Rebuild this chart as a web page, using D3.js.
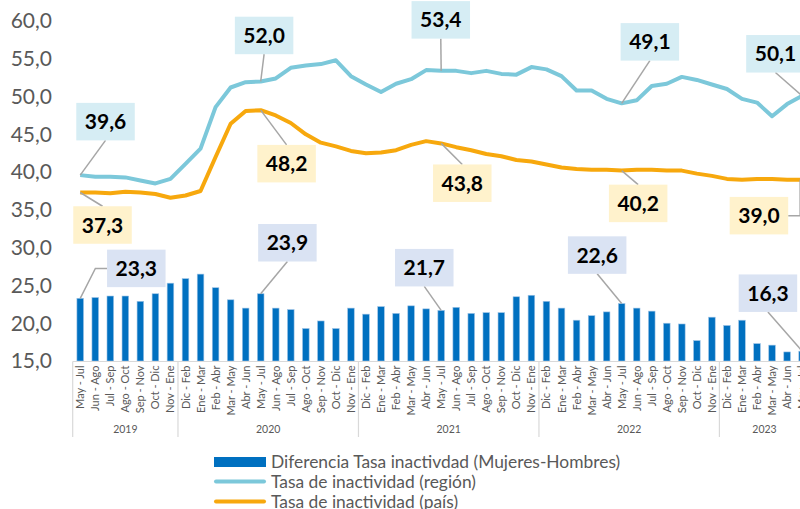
<!DOCTYPE html>
<html>
<head>
<meta charset="utf-8">
<script src="https://cdn.jsdelivr.net/npm/d3@7/dist/d3.min.js"></script>
<style>
  html, body { margin: 0; padding: 0; background: #fff; }
  svg { display: block; font-family: Lato, "Open Sans", sans-serif; }
</style>
</head>
<body>
<svg id="chart" width="800" height="509"></svg>
<script>
// ---- DATA ----
const years = ["2019", "2020", "2021", "2022", "2023"];
const periods2019 = ["May - Jul", "Jun - Ago", "Jul - Sep", "Ago - Oct", "Sep - Nov", "Oct - Dic", "Nov - Ene"];
const periodsFull = ["Dic - Feb", "Ene - Mar", "Feb - Abr", "Mar - May", "Abr - Jun", "May - Jul",
                     "Jun - Ago", "Jul - Sep", "Ago - Oct", "Sep - Nov", "Oct - Dic", "Nov - Ene"];
const periods2023 = ["Dic - Feb", "Ene - Mar", "Feb - Abr", "Mar - May", "Abr - Jun", "May - Jul"];
const periodsByYear = [periods2019, periodsFull, periodsFull, periodsFull, periods2023];

const tasaRegion = [39.6, 39.4, 39.4, 39.3, 38.9, 38.5, 39.1,
  41.1, 43.1, 48.6, 51.2, 51.9, 52.0, 52.4, 53.8, 54.1, 54.3, 54.8, 52.7,
  51.6, 50.6, 51.7, 52.3, 53.5, 53.4, 53.4, 53.1, 53.4, 53.0, 52.9, 53.9,
  53.6, 52.7, 50.8, 50.8, 49.7, 49.1, 49.5, 51.4, 51.7, 52.6, 52.2, 51.6,
  51.0, 49.7, 49.2, 47.4, 49.0, 50.1];
const tasaPais = [37.3, 37.3, 37.2, 37.4, 37.3, 37.1, 36.6,
  36.9, 37.5, 42.0, 46.4, 48.1, 48.2, 47.5, 46.5, 45.0, 43.9, 43.4, 42.8,
  42.5, 42.6, 42.9, 43.6, 44.1, 43.8, 43.3, 42.9, 42.4, 42.1, 41.6, 41.4,
  41.0, 40.6, 40.4, 40.3, 40.3, 40.2, 40.3, 40.3, 40.2, 40.2, 39.8, 39.5,
  39.1, 39.0, 39.1, 39.1, 39.0, 39.0];
const diferencia = [23.3, 23.4, 23.6, 23.6, 22.9, 23.9, 25.3,
  25.9, 26.5, 24.7, 23.1, 22.0, 23.9, 22.0, 21.8, 19.3, 20.3, 19.3, 22.0,
  21.2, 22.2, 21.3, 22.3, 21.9, 21.7, 22.1, 21.3, 21.4, 21.4, 23.5, 23.7,
  22.9, 22.0, 20.4, 21.0, 21.5, 22.6, 22.0, 21.6, 20.0, 19.9, 17.7, 20.8,
  19.7, 20.4, 17.3, 17.1, 16.2, 16.3];
const yTicks = [15, 20, 25, 30, 35, 40, 45, 50, 55, 60];
const legendLabels = ["Diferencia Tasa inactivdad (Mujeres-Hombres)", "Tasa de inactividad (región)", "Tasa de inactividad (país)"];
// indices of labelled points (May - Jul of each year)
const labelIdx = [0, 12, 24, 36, 48];

// ---- LAYOUT ----
const categories = [];
years.forEach((yr, gi) => periodsByYear[gi].forEach(p => categories.push({year: yr, label: p})));
const fmt = v => d3.format(".1f")(v).replace(".", ",");

const left = 72.7, step = 15.04;
const x = d3.scaleBand().domain(d3.range(categories.length))
  .range([left, left + categories.length * step]).paddingInner(0.56).paddingOuter(0.28);
const y = d3.scaleLinear().domain([15, 60]).range([361, 21]);
const cx = i => x(i) + x.bandwidth() / 2;

const svg = d3.select("#chart");
const colBar = "#0070c0", colReg = "#7cc8da", colPais = "#f7a80d";
const gray = "#595959", axisCol = "#d9d9d9";

// y axis labels
svg.append("g").selectAll("text").data(yTicks).join("text")
  .attr("x", 52).attr("y", d => y(d)).attr("dy", "0.35em")
  .attr("text-anchor", "end").attr("font-size", 21).attr("fill", gray)
  .text(d => fmt(d));

// bars
svg.append("g").selectAll("rect").data(diferencia).join("rect")
  .attr("x", (d, i) => x(i)).attr("width", x.bandwidth())
  .attr("y", d => y(d)).attr("height", d => y(15) - y(d))
  .attr("fill", colBar).attr("stroke", "#9dc3e6").attr("stroke-width", 0.6);

// x axis
const axisY = 361.5;
svg.append("line").attr("x1", left).attr("x2", 800).attr("y1", axisY).attr("y2", axisY)
  .attr("stroke", axisCol).attr("stroke-width", 1.2);
// group separators
let acc = 0;
const bounds = [0];
periodsByYear.forEach(p => { acc += p.length; bounds.push(acc); });
svg.append("g").selectAll("line").data(bounds).join("line")
  .attr("x1", b => left + b * step).attr("x2", b => left + b * step)
  .attr("y1", axisY).attr("y2", 437).attr("stroke", axisCol).attr("stroke-width", 1.2);
// category labels
svg.append("g").selectAll("text").data(categories).join("text")
  .attr("transform", (d, i) => `translate(${cx(i) + 4},${axisY + 4}) rotate(-90)`)
  .attr("text-anchor", "end").attr("font-size", 11).attr("fill", gray)
  .text(d => d.label);
// year labels
svg.append("g").selectAll("text").data(years).join("text")
  .attr("x", (d, gi) => left + (bounds[gi] + bounds[gi + 1]) / 2 * step)
  .attr("y", 429).attr("dy", "0.35em").attr("text-anchor", "middle")
  .attr("font-size", 10.5).attr("fill", gray).text(d => d);

// lines
const line = d3.line().x((d, i) => cx(i)).y(d => y(d));
svg.append("path").datum(tasaRegion).attr("d", line).attr("fill", "none")
  .attr("stroke", colReg).attr("stroke-width", 4).attr("stroke-linejoin", "round");
svg.append("path").datum(tasaPais).attr("d", line).attr("fill", "none")
  .attr("stroke", colPais).attr("stroke-width", 4).attr("stroke-linejoin", "round");

// data labels: box offsets from point (layout), side where leader attaches
const boxW = 58.5, boxH = 37.5;
const labelLayout = [
  {s: "reg", dx: 25.3, dy: -53.5, side: "b"},
  {s: "reg", dx: 3.4, dy: -46, side: "b"},
  {s: "reg", dx: -0.4, dy: -51, side: "b"},
  {s: "reg", dx: 28.2, dy: -61.5, side: "b"},
  {s: "reg", dx: -26.7, dy: -42, side: "b"},
  {s: "pais", dx: 22.3, dy: 32.5, side: "t"},
  {s: "pais", dx: 25.9, dy: 53.5, side: "t"},
  {s: "pais", dx: 21.1, dy: 39.8, side: "t"},
  {s: "pais", dx: 16.5, dy: 32.8, side: "t"},
  {s: "pais", dx: -43.2, dy: 36, side: "r"},
  {s: "bar", dx: 56.1, dy: -29.9, side: "l"},
  {s: "bar", dx: 26.7, dy: -51, side: "b"},
  {s: "bar", dx: -16.9, dy: -42.7, side: "b"},
  {s: "bar", dx: -24.5, dy: -48.5, side: "b"},
  {s: "bar", dx: -34.2, dy: -58, side: "b"}
];
const seriesVals = {reg: tasaRegion, pais: tasaPais, bar: diferencia};
const boxFill = {reg: "#d6edf4", pais: "#fff2cc", bar: "#dae3f3"};
const labels = labelLayout.map((l, k) => {
  const i = labelIdx[k % 5];
  const v = seriesVals[l.s][i];
  return Object.assign({i, v, px: cx(i), py: y(v)}, l);
});
const gl = svg.append("g");
labels.forEach(l => {
  const bx = l.px + l.dx, by = l.py + l.dy;
  let pts;
  if (l.side === "b") pts = [[l.px, l.py], [bx, by + boxH / 2]];
  else if (l.side === "t") pts = [[l.px, l.py], [bx, by - boxH / 2]];
  else if (l.side === "l") pts = [[l.px, l.py], [bx - boxW / 2 - 11.7, by], [bx - boxW / 2, by]];
  else pts = [[l.px - 2, l.py], [l.px - 2, by], [bx + boxW / 2, by]];
  gl.append("path").attr("d", d3.line()(pts)).attr("fill", "none")
    .attr("stroke", "#a6a6a6").attr("stroke-width", 1.5);
  gl.append("rect").attr("x", bx - boxW / 2).attr("y", by - boxH / 2)
    .attr("width", boxW).attr("height", boxH).attr("fill", boxFill[l.s]);
  gl.append("text").attr("x", bx).attr("y", by).attr("dy", "0.36em")
    .attr("text-anchor", "middle").attr("font-size", 21).attr("font-weight", "bold")
    .attr("fill", "#000").text(fmt(l.v));
});

// legend
const lg = svg.append("g");
const legY = [462, 481.5, 501.5];
lg.append("rect").attr("x", 214).attr("y", 457).attr("width", 52).attr("height", 10).attr("fill", colBar);
lg.append("line").attr("x1", 216).attr("x2", 264).attr("y1", legY[1]).attr("y2", legY[1])
  .attr("stroke", colReg).attr("stroke-width", 4).attr("stroke-linecap", "round");
lg.append("line").attr("x1", 216).attr("x2", 264).attr("y1", legY[2]).attr("y2", legY[2])
  .attr("stroke", colPais).attr("stroke-width", 4).attr("stroke-linecap", "round");
lg.selectAll("text").data(legendLabels).join("text")
  .attr("x", 271).attr("y", (d, k) => legY[k]).attr("dy", "0.35em")
  .attr("font-size", 17.4).attr("fill", gray).text(d => d);
</script>
</body>
</html>
